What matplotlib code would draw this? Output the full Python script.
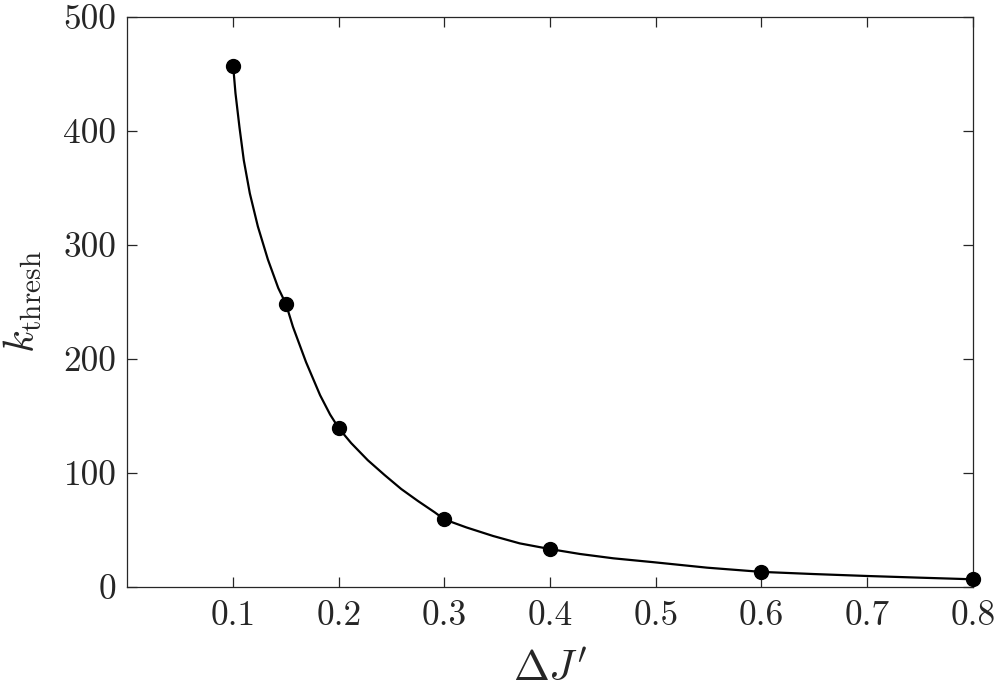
import matplotlib
matplotlib.use("Agg")
import matplotlib.pyplot as plt

matplotlib.rcParams.update({
    "font.family": "serif",
    "font.serif": ["cmr10"],
    "mathtext.fontset": "cm",
    "axes.formatter.use_mathtext": True,
    "axes.unicode_minus": False,
})

# data points (sampled values)
dj = [0.1, 0.15, 0.2, 0.3, 0.4, 0.6, 0.8]
k_thresh = [457, 248, 139, 59, 33, 13, 6.5]

# smooth fitted curve
curve_dj = [0.1, 0.1022, 0.106, 0.1101, 0.1158, 0.1234, 0.1329, 0.1427, 0.15,
            0.1566, 0.169, 0.1823, 0.1918, 0.2, 0.2117, 0.2274, 0.2433,
            0.2591, 0.2749, 0.2907, 0.3, 0.3208, 0.346, 0.3713, 0.4,
            0.4283, 0.4599, 0.4978, 0.5485, 0.6, 0.6496, 0.7, 0.7509, 0.8]
curve_k = [457, 433, 403, 374, 345, 316, 287, 262, 248,
           228, 197, 168, 151, 139, 126, 111, 98,
           85.7, 75.2, 65.3, 59, 52, 44.5, 38, 33,
           28.7, 24.9, 21.5, 16.7, 13, 11.1, 9.4, 7.9, 6.5]

x_ticks = [0.1, 0.2, 0.3, 0.4, 0.5, 0.6, 0.7, 0.8]
x_ticklabels = ["0.1", "0.2", "0.3", "0.4", "0.5", "0.6", "0.7", "0.8"]
y_ticks = [0, 100, 200, 300, 400, 500]
y_ticklabels = ["0", "100", "200", "300", "400", "500"]

AX_COLOR = "#262626"

fig = plt.figure(figsize=(9.96, 6.85), dpi=100)
ax = fig.add_axes([0.128, 0.1435, 0.8486, 0.8321])

ax.plot(curve_dj, curve_k, "-", color="black", linewidth=1.6, zorder=2,
        solid_joinstyle="round")
ax.plot(dj, k_thresh, "o", color="black", markersize=10, zorder=3,
        clip_on=False)

ax.set_xlim(0, 0.8)
ax.set_ylim(0, 500)
ax.set_xticks(x_ticks)
ax.set_xticklabels(x_ticklabels)
ax.set_yticks(y_ticks)
ax.set_yticklabels(y_ticklabels)

for sp in ax.spines.values():
    sp.set_color(AX_COLOR)
    sp.set_linewidth(0.9)

ax.tick_params(direction="in", length=7, width=0.9, color=AX_COLOR,
               labelcolor=AX_COLOR, labelsize=25.5, top=True, right=True)
ax.tick_params(axis="x", pad=10)
ax.tick_params(axis="y", pad=8)

ax.set_xlabel(r"$\Delta J^{\prime}$", fontsize=31, color=AX_COLOR, labelpad=14)
ax.set_ylabel(r"$k_{\rm thresh}$", fontsize=30, color=AX_COLOR, labelpad=14)

fig.savefig("out.png", dpi=100)
